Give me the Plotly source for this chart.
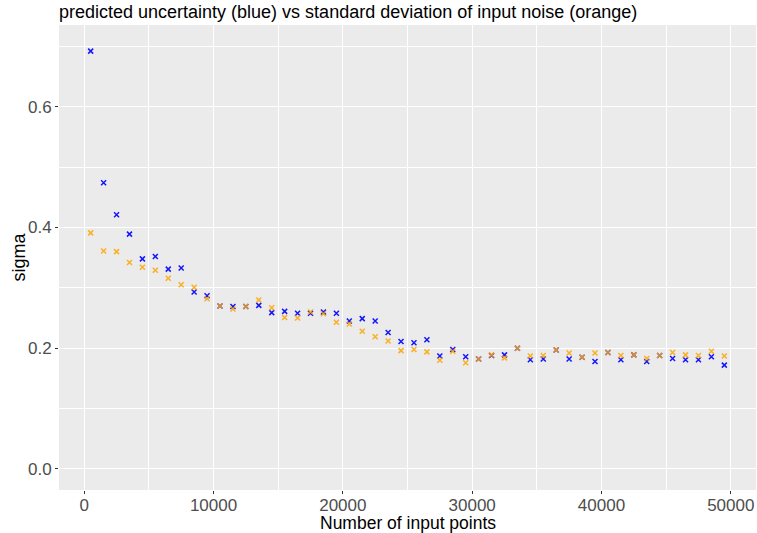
import plotly.graph_objects as go

n_points = [500 + 1000 * i for i in range(50)]

predicted_sigma = [
    0.692, 0.474, 0.421, 0.389, 0.348, 0.352, 0.331, 0.333, 0.293, 0.287,
    0.270, 0.269, 0.269, 0.271, 0.259, 0.261, 0.258, 0.258, 0.260, 0.258,
    0.245, 0.249, 0.245, 0.226, 0.211, 0.209, 0.214, 0.187, 0.198, 0.186,
    0.182, 0.188, 0.189, 0.200, 0.181, 0.182, 0.197, 0.182, 0.185, 0.178,
    0.193, 0.181, 0.189, 0.178, 0.188, 0.183, 0.181, 0.181, 0.186, 0.172,
]

noise_sigma = [
    0.391, 0.361, 0.360, 0.342, 0.334, 0.329, 0.316, 0.305, 0.301, 0.282,
    0.270, 0.265, 0.269, 0.280, 0.267, 0.251, 0.250, 0.260, 0.257, 0.243,
    0.240, 0.228, 0.219, 0.212, 0.196, 0.198, 0.194, 0.180, 0.195, 0.176,
    0.182, 0.189, 0.184, 0.200, 0.187, 0.188, 0.197, 0.192, 0.185, 0.192,
    0.193, 0.188, 0.189, 0.183, 0.188, 0.193, 0.189, 0.188, 0.195, 0.187,
]

x_ticks = [0, 10000, 20000, 30000, 40000, 50000]
y_ticks = [0.0, 0.2, 0.4, 0.6]

FONT = "Liberation Sans, Arial, sans-serif"
W, H = 757, 533

fig = go.Figure()
fig.add_trace(go.Scatter(
    x=n_points, y=predicted_sigma, mode="markers", name="predicted",
    marker=dict(symbol="x-thin-open", size=5, color="blue",
                line=dict(width=1.5, color="blue")),
    opacity=0.9,
))
fig.add_trace(go.Scatter(
    x=n_points, y=noise_sigma, mode="markers", name="noise",
    marker=dict(symbol="x-thin-open", size=5, color="orange",
                line=dict(width=1.5, color="orange")),
    opacity=0.85,
))

axis_common = dict(
    showgrid=True, gridcolor="white", gridwidth=1.2,
    zeroline=False, showline=False,
    ticks="outside", ticklen=3, tickwidth=1, tickcolor="#333333",
    tickfont=dict(family=FONT, size=17, color="#4D4D4D"),
    automargin=False,
)

fig.update_layout(
    width=W, height=H,
    margin=dict(l=59, r=1, t=25, b=43, autoexpand=False),
    paper_bgcolor="white", plot_bgcolor="#EBEBEB",
    showlegend=False,
    font=dict(family=FONT, color="black"),
    title=dict(
        text="predicted uncertainty (blue) vs standard deviation of input noise (orange)",
        x=59 / W, xref="container", xanchor="left",
        y=1 - 12 / H, yref="container", yanchor="middle",
        font=dict(size=18, color="black"),
    ),
    xaxis=dict(
        axis_common,
        range=[-1950, 51950],
        tickvals=x_ticks, ticktext=[str(v) for v in x_ticks],
        ticklabelstandoff=-3,
        minor=dict(dtick=5000, tick0=5000, showgrid=True, gridcolor="white",
                   gridwidth=0.6, ticks=""),
    ),
    yaxis=dict(
        axis_common,
        range=[-0.0348, 0.7353],
        tickvals=y_ticks, ticktext=[f"{v:.1f}" for v in y_ticks],
        minor=dict(dtick=0.2, tick0=0.1, showgrid=True, gridcolor="white",
                   gridwidth=0.6, ticks=""),
    ),
    annotations=[
        dict(text="Number of input points", xref="paper", yref="paper",
             x=0.5, y=0, xanchor="center", yanchor="middle", yshift=-33,
             showarrow=False, font=dict(family=FONT, size=17.5, color="black")),
        dict(text="sigma", xref="paper", yref="paper", textangle=-90,
             x=0, y=0.5, xanchor="center", yanchor="middle", xshift=-41,
             showarrow=False, font=dict(family=FONT, size=18, color="black")),
    ],
)

fig.write_html("out.html", config={"displayModeBar": False},
               post_script="document.body.style.margin='0';")
